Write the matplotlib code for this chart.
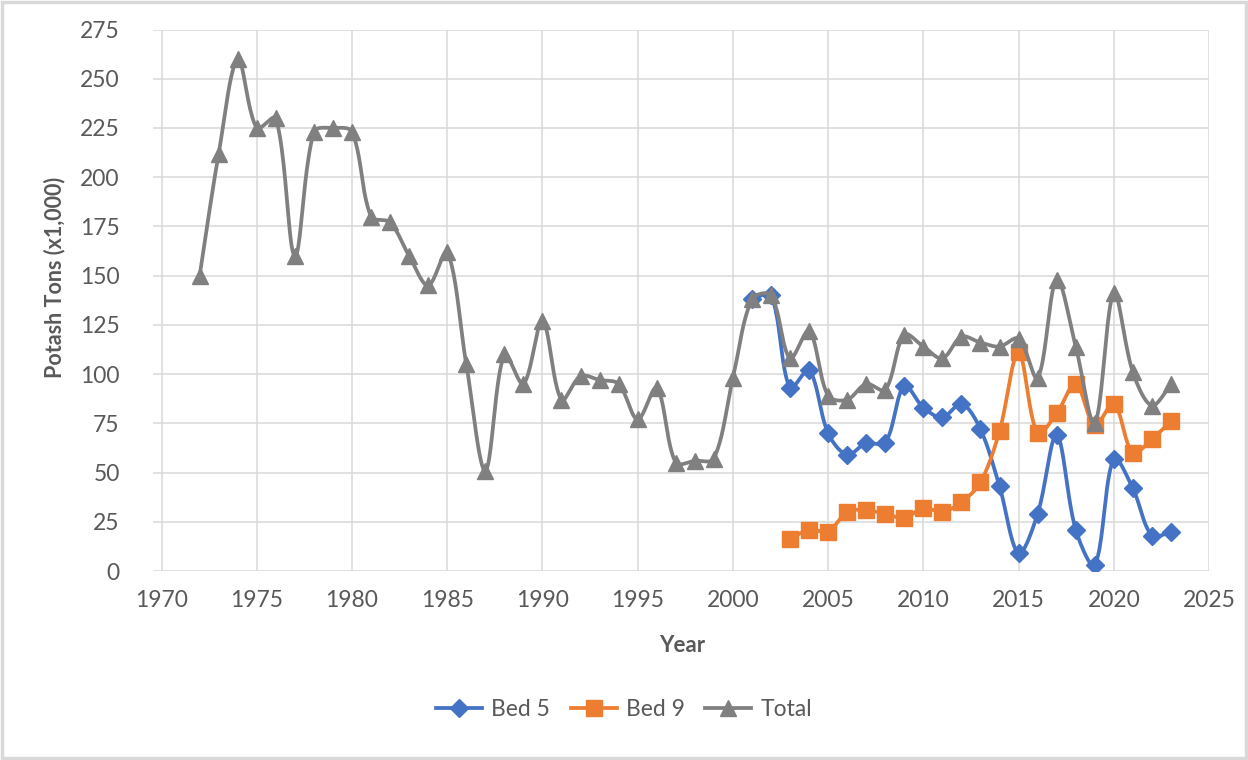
import numpy as np
import matplotlib
matplotlib.use("Agg")
from matplotlib import pyplot as plt
from matplotlib.patches import Rectangle

plt.rcParams['font.family'] = ['Lato', 'DejaVu Sans']

# data (thousands of tons)
total_years = list(range(1972, 2024))
total = [150, 212, 260, 225, 230, 160, 223, 225, 223, 180,
         177, 160, 145, 162, 105, 51, 110, 95, 127, 87,
         99, 97, 95, 77, 93, 55, 56, 57, 98, 138,
         140, 108, 122, 89, 87, 95, 92, 120, 114, 108,
         119, 116, 114, 118, 98, 148, 114, 75, 141, 101,
         84, 95]

bed5_years = list(range(2001, 2024))
bed5 = [138, 140, 93, 102, 70, 59, 65, 65, 94, 83,
        78, 85, 72, 43, 9, 29, 69, 21, 3, 57,
        42, 18, 20]

bed9_years = list(range(2003, 2024))
bed9 = [16, 21, 20, 30, 31, 29, 27, 32, 30, 35,
        45, 71, 111, 70, 80, 95, 74, 85, 60, 67,
        76]

# px per unit, used only so the smoothing works in screen space like excel
SX, SY = 19.2, 1.969


def smooth(xs, ys, n=24):
    # excel-like smoothed line: bezier with control points scaled by segment lengths
    p = np.column_stack([np.array(xs, float) * SX, np.array(ys, float) * SY])
    out = [p[0]]
    t = np.linspace(0, 1, n)[1:, None]
    for i in range(len(p) - 1):
        p0 = p[i - 1] if i > 0 else p[i]
        p1 = p[i]
        p2 = p[i + 1]
        p3 = p[i + 2] if i + 2 < len(p) else p[i + 1]
        d01 = np.hypot(*(p1 - p0))
        d12 = np.hypot(*(p2 - p1))
        d23 = np.hypot(*(p3 - p2))
        f1 = d12 / (d01 + d12) / 3.0 if d01 > 0 else 1 / 6.0
        f2 = d12 / (d12 + d23) / 3.0 if d23 > 0 else 1 / 6.0
        c1 = p1 + (p2 - p0) * f1
        c2 = p2 - (p3 - p1) * f2
        seg = ((1 - t) ** 3) * p1 + 3 * ((1 - t) ** 2) * t * c1 + 3 * (1 - t) * t ** 2 * c2 + t ** 3 * p2
        out.extend(seg)
    out = np.array(out)
    return out[:, 0] / SX, out[:, 1] / SY


fig = plt.figure(figsize=(12.48, 7.6), dpi=100)
ax = fig.add_axes([153 / 1248, 1 - 571 / 760, (1209 - 153) / 1248, (571 - 29.5) / 760])

series = [
    ("Bed 5", bed5_years, bed5, "#4472C4", "D", 9),
    ("Bed 9", bed9_years, bed9, "#ED7D31", "s", 11),
    ("Total", total_years, total, "#808080", "^", 11),
]
for i, (name, xs, ys, col, mk, ms) in enumerate(series):
    sx, sy = smooth(xs, ys)
    ax.plot(sx, sy, color=col, lw=2.7, zorder=3 + i, solid_capstyle='round')
    ax.plot(xs, ys, ls='none', marker=mk, ms=ms, color=col, zorder=3 + i)
    # legend proxy
    ax.plot([], [], color=col, lw=2.7, marker=mk, ms=ms, label=name)

ax.set_xlim(1969.55, 2025)
ax.set_ylim(0, 275)
ax.set_xticks(range(1970, 2026, 5))
ax.set_yticks(range(0, 276, 25))
ax.grid(True, color="#d9d9d9", lw=1.1)
ax.set_axisbelow(True)
for s in ax.spines.values():
    s.set_visible(False)
ax.tick_params(length=0, labelsize=16.5, labelcolor="#595959")
ax.tick_params(axis='y', pad=24)
ax.tick_params(axis='x', pad=14)

fig.text(0.5465, 1 - 645 / 760, "Year", ha='center', va='center',
         fontsize=16, fontweight='bold', color="#595959")
fig.text(55 / 1248, 1 - 277 / 760, "Potash Tons (x1,000)", ha='center', va='center',
         rotation=90, fontsize=15.5, fontweight='bold', color="#595959")

leg = fig.legend(loc='center', bbox_to_anchor=(0.5, 1 - 710 / 760), ncol=3,
                 frameon=False, fontsize=16.5, handlelength=2.0, columnspacing=0.9,
                 handletextpad=0.4)
for t in leg.get_texts():
    t.set_color("#595959")

fig.add_artist(Rectangle((0.002, 0.003), 0.996, 0.994, transform=fig.transFigure,
                         fill=False, edgecolor="#d9d9d9", lw=2.5))

fig.savefig("out.png", dpi=100, facecolor="white")
